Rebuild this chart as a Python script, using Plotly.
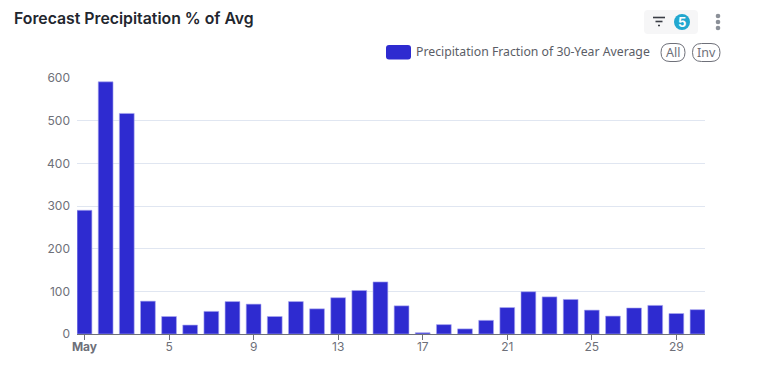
import plotly.graph_objects as go

days = list(range(1, 31))
precip_fraction = [290, 591, 517, 77, 41, 21, 53, 76, 70, 41, 76, 59, 85, 102, 122,
                   66, 3, 22, 12, 32, 62, 99, 87, 81, 56, 42, 61, 67, 48, 57]
series_name = "Precipitation Fraction of 30-Year Average"
title_text = "Forecast Precipitation % of Avg"
x_tick_vals = [1, 5, 9, 13, 17, 21, 25, 29]
x_tick_text = ["<b>May</b>", "5", "9", "13", "17", "21", "25", "29"]
y_tick_vals = [0, 100, 200, 300, 400, 500, 600]

W, H = 765, 375
L, R, T, B = 77, 705, 78, 334
BAR = "#2e2bd0"
GREY = "#6e7079"
FONT = "Noto Sans"
TICKFONT = "Inter"


def px(x):
    return (x - L) / (R - L)


def py(y):
    return (B - y) / (B - T)


def rrect(x0, y0, x1, y1, r):
    X0, X1, Y0, Y1 = x0, x1, y0, y1
    pts = [
        f"M {px(X0 + r)} {py(Y0)}", f"L {px(X1 - r)} {py(Y0)}", f"Q {px(X1)} {py(Y0)} {px(X1)} {py(Y0 + r)}",
        f"L {px(X1)} {py(Y1 - r)}", f"Q {px(X1)} {py(Y1)} {px(X1 - r)} {py(Y1)}",
        f"L {px(X0 + r)} {py(Y1)}", f"Q {px(X0)} {py(Y1)} {px(X0)} {py(Y1 - r)}",
        f"L {px(X0)} {py(Y0 + r)}", f"Q {px(X0)} {py(Y0)} {px(X0 + r)} {py(Y0)} Z",
    ]
    return " ".join(pts)


def path_shape(path, fill=None, line=None, width=1):
    return dict(type="path", xref="paper", yref="paper", path=path, layer="above",
                fillcolor=fill or "rgba(0,0,0,0)", line=dict(color=line or "rgba(0,0,0,0)", width=width if line else 0))


def circle(cx, cy, r, fill):
    return dict(type="circle", xref="paper", yref="paper", x0=px(cx - r), x1=px(cx + r),
                y0=py(cy + r), y1=py(cy - r), fillcolor=fill, line=dict(width=0), layer="above")


def hline(x0, x1, y, color, width):
    return dict(type="line", xref="paper", yref="paper", x0=px(x0), x1=px(x1), y0=py(y), y1=py(y),
                line=dict(color=color, width=width), layer="above")


def label(x, y, text, size, color, anchor="left", family=FONT, weight=None):
    return dict(xref="paper", yref="paper", x=px(x), y=py(y), text=text, showarrow=False,
                xanchor=anchor, yanchor="middle", xshift=0, yshift=0, borderpad=0, borderwidth=0,
                font=dict(size=size, color=color, family=family, weight=weight))


fig = go.Figure(go.Bar(x=days, y=precip_fraction, name=series_name, width=0.7,
                       marker=dict(color=BAR, line=dict(color="rgba(170,168,240,0.6)", width=1))))

shapes = [
    path_shape(rrect(644, 10, 698, 34, 4), fill="#f6f6f7"),
    hline(653, 665, 17.5, "#3a3d45", 1.6),
    hline(655.5, 662.5, 21.5, "#3a3d45", 1.6),
    hline(658, 660, 25.5, "#3a3d45", 1.6),
    circle(682, 22, 8, "#22a7cf"),
    circle(718, 16, 2.3, "#8b9098"),
    circle(718, 22, 2.3, "#8b9098"),
    circle(718, 28, 2.3, "#8b9098"),
    path_shape(rrect(386, 45, 411, 59.5, 3), fill=BAR),
    path_shape(rrect(661, 43.5, 685, 61.5, 9), line="#6e7079"),
    path_shape(rrect(692.5, 43.5, 720, 61.5, 9), line="#6e7079"),
]
annotations = [
    label(14, 18.5, title_text, 15.8, "#22262e", family="Inter", weight=600),
    label(682, 22, "5", 13, "#ffffff", "center", family="Inter", weight=700),
    label(416, 51.5, series_name, 12.26, "#5a5d66"),
    label(673, 52, "All", 12.5, GREY, "center"),
    label(706.2, 52, "Inv", 12.5, GREY, "center"),
]

fig.update_layout(
    width=W, height=H, autosize=False, showlegend=False,
    paper_bgcolor="white", plot_bgcolor="white",
    margin=dict(l=L, r=W - R, t=T, b=H - B, pad=0),
    font=dict(family=TICKFONT, size=12, color=GREY),
    shapes=shapes, annotations=annotations,
)
fig.update_xaxes(range=[0.645, 30.355], tickmode="array", tickvals=x_tick_vals, ticktext=x_tick_text,
                 ticks="outside", ticklen=5, tickcolor=GREY, tickwidth=1, showline=True, linecolor=GREY,
                 linewidth=1, showgrid=False, zeroline=False, ticklabelstandoff=-3,
                 tickfont=dict(size=12, color=GREY, family=TICKFONT))
fig.update_yaxes(range=[0, 600], tickmode="array", tickvals=y_tick_vals, ticks="", showgrid=True,
                 gridcolor="#e0e6f1", gridwidth=1, zeroline=False, showline=False, ticklabelstandoff=6,
                 tickfont=dict(size=12, color=GREY, family=TICKFONT))

fig.write_html("out.html", config=dict(displayModeBar=False),
               post_script="document.body.style.margin='0';")
